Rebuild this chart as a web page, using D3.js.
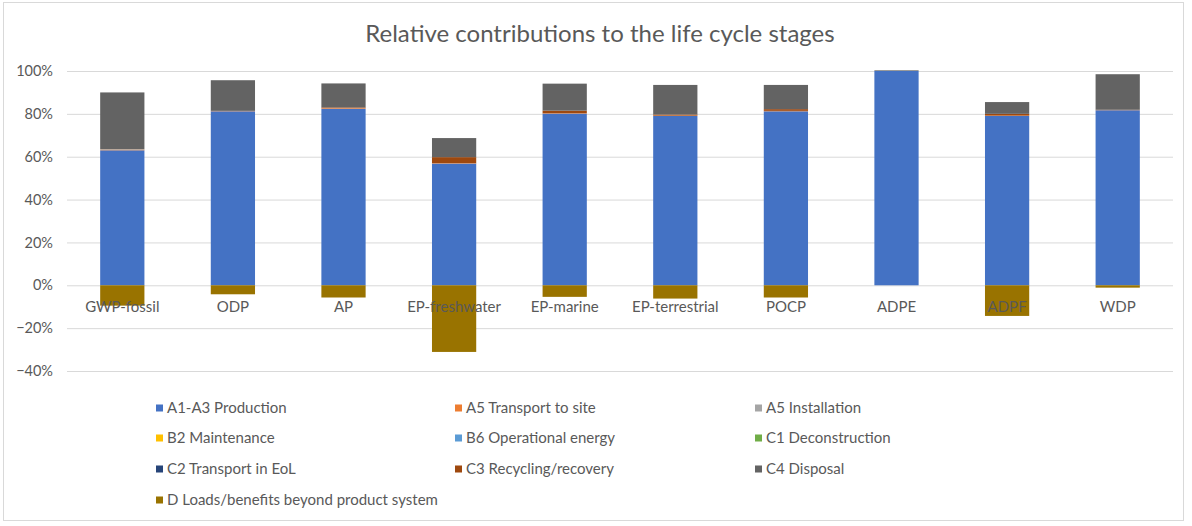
<!DOCTYPE html>
<html><head><meta charset="utf-8">
<script src="https://cdn.jsdelivr.net/npm/d3@7"></script>
<style>body{margin:0;background:#fff}svg{display:block}text{font-family:Lato,"Open Sans",sans-serif}</style>
</head><body><svg id="c" width="1192" height="526"></svg>
<script>
const categories = ["GWP-fossil","ODP","AP","EP-freshwater","EP-marine","EP-terrestrial","POCP","ADPE","ADPF","WDP"];
const seriesNames = ["A1-A3 Production","A5 Transport to site","A5 Installation","B2 Maintenance","B6 Operational energy","C1 Deconstruction","C2 Transport in EoL","C3 Recycling/recovery","C4 Disposal","D Loads/benefits beyond product system"];
const seriesColors = ["#4472C4","#ED7D31","#A5A5A5","#FFC000","#5B9BD5","#70AD47","#264478","#9E480E","#636363","#997300"];
const A1A3   = [63.0, 81.2, 82.4, 56.8, 80.1, 79.0, 81.2, 100.0, 79.0, 81.7];
const A5T    = [0.3, 0.2, 0.3, 0.2, 0.2, 0.2, 0.2, 0, 0.2, 0.2];
const A5I    = [0.2, 0, 0, 0, 0, 0, 0, 0, 0, 0];
const B2     = [0, 0, 0, 0, 0, 0, 0, 0, 0, 0];
const B6     = [0, 0, 0, 0, 0, 0, 0, 0, 0, 0];
const C1     = [0, 0, 0, 0, 0, 0, 0, 0, 0, 0];
const C2     = [0, 0, 0, 0, 0, 0, 0, 0, 0, 0];
const C3     = [0, 0, 0.3, 2.8, 1.2, 0.5, 0.8, 0, 0.8, 0];
const C4     = [26.5, 14.3, 11.2, 8.9, 12.6, 13.8, 11.3, 0.3, 5.5, 16.6];
const D      = [-9.5, -4.2, -5.7, -31.1, -5.4, -6.2, -5.7, 0, -14.3, -1.1];
const yTicks = [-40,-20,0,20,40,60,80,100];
const title = "Relative contributions to the life cycle stages";

const seriesValues = [A1A3,A5T,A5I,B2,B6,C1,C2,C3,C4,D];
const rows = categories.map((c,i)=>{const r={cat:c}; seriesNames.forEach((s,j)=>r[s]=seriesValues[j][i]/100); return r;});

const svg = d3.select("#c");
svg.append("rect").attr("x",3.5).attr("y",2.5).attr("width",1180).attr("height",518).attr("fill","#fff").attr("stroke","#d9d9d9");

const x = d3.scaleBand().domain(categories).range([67,1173]).paddingInner(0.6).paddingOuter(0.3);
const y = d3.scaleLinear().domain([-0.4,1.0]).range([371,71]);

svg.append("text").attr("x",600).attr("y",42).attr("text-anchor","middle").attr("font-size",24).attr("fill","#595959").text(title);

const yAxis = d3.axisLeft(y).tickValues(yTicks.map(v=>v/100)).tickFormat(d3.format(".0%")).tickSize(-(1173-67)).tickPadding(14);
const ga = svg.append("g").attr("transform","translate(67,0)").call(yAxis);
ga.select(".domain").remove();
ga.selectAll(".tick line").attr("stroke","#d9d9d9").attr("stroke-width",1);
ga.selectAll(".tick text").attr("fill","#595959").attr("font-size",14.5);

const stack = d3.stack().keys(seriesNames).offset(d3.stackOffsetDiverging);
const stacked = stack(rows);
svg.append("g").selectAll("g").data(stacked).join("g").attr("fill",(d,i)=>seriesColors[i])
  .selectAll("rect").data(d=>d).join("rect")
  .attr("x",d=>x(d.data.cat)).attr("width",x.bandwidth())
  .attr("y",d=>y(Math.max(d[0],d[1]))).attr("height",d=>Math.abs(y(d[0])-y(d[1])));

svg.append("g").selectAll("text").data(categories).join("text")
  .attr("x",d=>x(d)+x.bandwidth()/2).attr("y",312).attr("text-anchor","middle")
  .attr("font-size",15).attr("fill","#595959").text(d=>d);

const colX = [156,455,755], rowY = [408,438,469,500];
const lg = svg.append("g").selectAll("g").data(seriesNames).join("g")
  .attr("transform",(d,i)=>`translate(${colX[i%3]},${rowY[Math.floor(i/3)]})`);
lg.append("rect").attr("x",0).attr("y",-3.5).attr("width",7).attr("height",7).attr("fill",(d,i)=>seriesColors[i]);
lg.append("text").attr("x",11).attr("y",5).attr("font-size",15).attr("fill","#595959").text(d=>d);
</script></body></html>
